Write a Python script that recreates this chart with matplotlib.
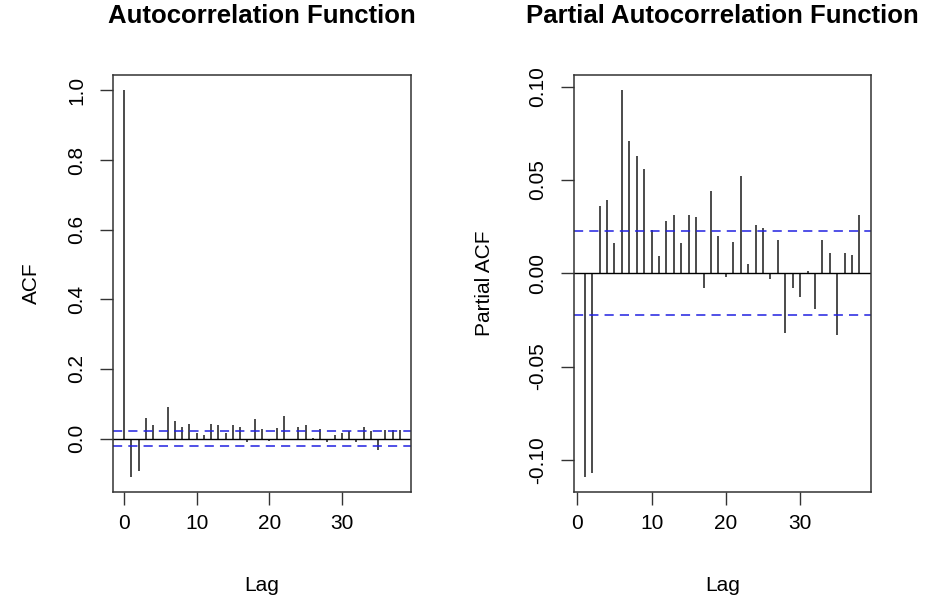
import numpy as np
import matplotlib
matplotlib.use("Agg")
import matplotlib.pyplot as plt

plt.rcParams['font.family'] = ['Liberation Sans', 'DejaVu Sans']

# autocorrelations, lags 0..38
acf_lags = list(range(0, 39))
acf_vals = [1.0, -0.109, -0.093, 0.058, 0.039, -0.002, 0.091, 0.051, 0.032, 0.042,
            0.016, 0.009, 0.042, 0.039, 0.017, 0.039, 0.034, -0.010, 0.056, 0.027,
            -0.006, 0.031, 0.066, -0.004, 0.034, 0.038, 0.001, 0.027, -0.011, 0.011,
            0.015, 0.023, -0.010, 0.032, 0.021, -0.033, 0.025, 0.025, 0.025]

# partial autocorrelations, lags 1..38
pacf_lags = list(range(1, 39))
pacf_vals = [-0.109, -0.107, 0.036, 0.039, 0.016, 0.098, 0.071, 0.063, 0.056, 0.023,
             0.009, 0.028, 0.031, 0.016, 0.031, 0.030, -0.008, 0.044, 0.020, -0.002,
             0.017, 0.052, 0.005, 0.026, 0.024, -0.003, 0.018, -0.032, -0.008, -0.013,
             0.001, -0.019, 0.018, 0.011, -0.033, 0.011, 0.010, 0.031]

conf = 0.0225  # 95% band

W, H = 926, 603
fig = plt.figure(figsize=(W / 100, H / 100), dpi=100)

frame_col = '#333333'
fs = 15


def r_style(ax, lags, vals, ylabel, yticks, yticklabels, title):
    ax.vlines(lags, 0, vals, color='#1a1a1a', linewidth=1.1)
    ax.axhline(0, color='black', linewidth=1.0)
    for c in (conf, -conf):
        ax.axhline(c, color='#2020e0', linewidth=1.1, linestyle=(0, (6, 4)))

    lo = min(min(vals), -conf)
    hi = max(max(vals), conf)
    pad = 0.04 * (hi - lo)
    ax.set_ylim(lo - pad, hi + pad)

    ax.set_xticks([0, 10, 20, 30])
    ax.set_yticks(yticks)
    ax.set_yticklabels(yticklabels, rotation=90, va='center')
    ax.tick_params(direction='out', length=9.5, width=1.0, color=frame_col,
                   labelsize=fs, pad=6)
    ax.tick_params(axis='y', pad=10)
    for s in ax.spines.values():
        s.set_color(frame_col)
        s.set_linewidth(1.1)

    ax.set_xlabel('Lag', fontsize=fs)
    ax.xaxis.set_label_coords(0.5, -0.224)
    ax.xaxis.label.set_va('center')
    ax.set_ylabel(ylabel, fontsize=fs)
    ax.yaxis.label.set_va('center')
    ax.set_title(title, fontsize=18.5, fontweight='bold', y=1.0 + 59 / 417,
                 va='center', pad=0)


ax1 = fig.add_axes([113 / W, 1 - 492 / H, 298 / W, 417 / H])
r_style(ax1, acf_lags, acf_vals, 'ACF',
        [0.0, 0.2, 0.4, 0.6, 0.8, 1.0], ['0.0', '0.2', '0.4', '0.6', '0.8', '1.0'],
        'Autocorrelation Function')
ax1.set_xlim(-1.52, 39.52)
ax1.yaxis.set_label_coords(-0.275, 0.5)

ax2 = fig.add_axes([574 / W, 1 - 492 / H, 297 / W, 417 / H])
r_style(ax2, pacf_lags, pacf_vals, 'Partial ACF',
        [-0.10, -0.05, 0.0, 0.05, 0.10], ['-0.10', '-0.05', '0.00', '0.05', '0.10'],
        'Partial Autocorrelation Function')
ax2.set_xlim(-0.45, 39.55)
ax2.yaxis.set_label_coords(-0.30, 0.5)

fig.savefig('out.png', dpi=100)
